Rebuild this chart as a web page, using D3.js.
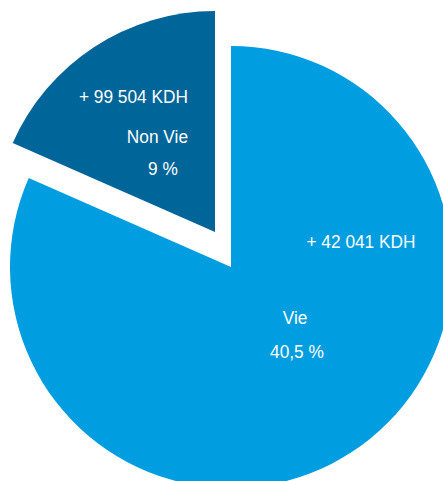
<!DOCTYPE html>
<html>
<head>
<meta charset="utf-8">
<script src="https://cdn.jsdelivr.net/npm/d3@7"></script>
<style>
  html, body { margin: 0; padding: 0; background: #fff; }
  svg { display: block; }
  .lbl { fill: #fff; font-family: "Liberation Sans", Arial, sans-serif; font-size: 19px; }
</style>
</head>
<body>
<svg id="chart"></svg>
<script>
// slice shares of the pie, and the printed labels
var categories = ["Vie", "Non Vie"];
var shares = [81.6, 18.4];
var amounts = ["+ 42 041 KDH", "+ 99 504 KDH"];
var rates = ["40,5 %", "9 %"];
var colors = ["#009ee0", "#006598"];

var width = 443,
    height = 481,
    cx = 231,
    cy = 267,
    radius = 221,
    squeeze = 0.91; // the original type is a condensed face

var data = categories.map(function(c, i) {
    return { name: c, share: shares[i], amount: amounts[i], rate: rates[i], color: colors[i] };
});

// offset of the pulled-out slice
var explode = { "Vie": [0, 0], "Non Vie": [-16, -35] };

// label placement relative to each slice apex: [amount, name, rate]
var labelPos = {
    "Vie": [
        { dx: 130, dy: -19, anchor: "middle" },
        { dx: 64, dy: 57, anchor: "middle" },
        { dx: 66, dy: 91, anchor: "middle" }
    ],
    "Non Vie": [
        { dx: -27, dy: -129, anchor: "end" },
        { dx: -27, dy: -89, anchor: "end" },
        { dx: -52, dy: -57, anchor: "middle" }
    ]
};

var svg = d3.select("#chart")
    .attr("width", width)
    .attr("height", height);

var pie = d3.pie()
    .sort(null)
    .value(function(d) { return d.share; });

var arc = d3.arc()
    .innerRadius(0)
    .outerRadius(radius);

var slices = svg.selectAll(".slice")
    .data(pie(data))
    .enter().append("g")
    .attr("class", "slice")
    .attr("transform", function(d) {
        var o = explode[d.data.name];
        return "translate(" + (cx + o[0]) + "," + (cy + o[1]) + ")";
    });

slices.append("path")
    .attr("d", arc)
    .style("fill", function(d) { return d.data.color; });

slices.each(function(d) {
    var g = d3.select(this);
    var texts = [d.data.amount, d.data.name, d.data.rate];
    labelPos[d.data.name].forEach(function(p, i) {
        g.append("text")
            .attr("class", "lbl")
            .attr("transform", "translate(" + p.dx + "," + p.dy + ") scale(" + squeeze + ",1)")
            .style("text-anchor", p.anchor)
            .text(texts[i]);
    });
});
</script>
</body>
</html>
